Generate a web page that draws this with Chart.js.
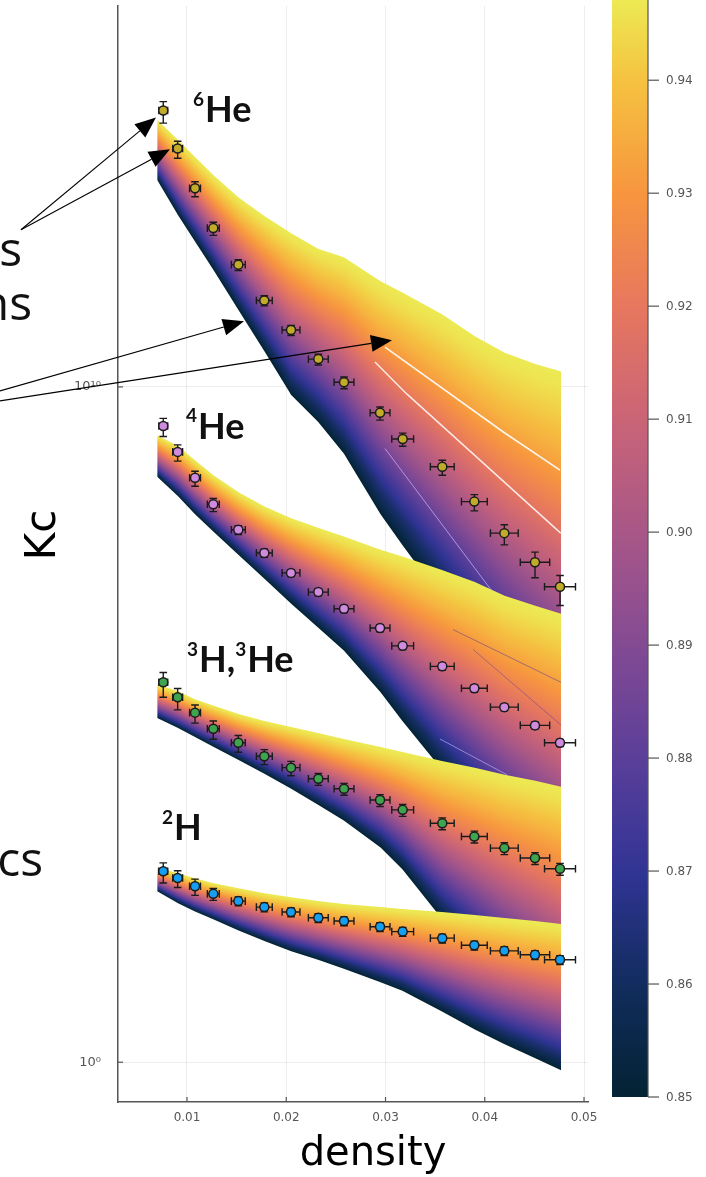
<!DOCTYPE html>
<html>
<head>
<meta charset="utf-8">
<script src="https://cdn.jsdelivr.net/npm/chart.js@4.4.1/dist/chart.umd.min.js"></script>
<style>
html,body{margin:0;padding:0;background:#fff;}
#wrap{position:relative;width:706px;height:1177px;}
</style>
</head>
<body>
<div id="wrap"><canvas id="c"></canvas></div>
<script>
// ---------------- data ----------------
const pointDensity = [0.00761, 0.00906, 0.01081, 0.01265, 0.01517, 0.01779, 0.02048, 0.02323, 0.02582, 0.02945, 0.03173, 0.03572, 0.03895, 0.04197, 0.04506, 0.04758];
const densityErr   = [0.00045, 0.0005, 0.00055, 0.0006, 0.0007, 0.0008, 0.0009, 0.001, 0.001, 0.001, 0.0011, 0.0012, 0.0013, 0.0014, 0.00148, 0.00156];

const he6LogKc  = [14.094, 13.530, 12.941, 12.352, 11.811, 11.281, 10.843, 10.412, 10.069, 9.617, 9.230, 8.817, 8.302, 7.835, 7.404, 7.040];
const he6RelErr = [0.35, 0.28, 0.25, 0.22, 0.18, 0.17, 0.17, 0.18, 0.20, 0.22, 0.22, 0.25, 0.27, 0.33, 0.41, 0.47];
const he4LogKc  = [9.421, 9.038, 8.655, 8.262, 7.884, 7.541, 7.246, 6.962, 6.716, 6.431, 6.166, 5.862, 5.538, 5.258, 4.988, 4.732];
const he4RelErr = [0.30, 0.27, 0.25, 0.22, 0.15, 0.14, 0.12, 0.12, 0.12, 0.12, 0.12, 0.12, 0.12, 0.12, 0.12, 0.12];
const h3LogKc   = [5.626, 5.405, 5.177, 4.938, 4.732, 4.532, 4.362, 4.197, 4.050, 3.884, 3.737, 3.539, 3.343, 3.171, 3.024, 2.865];
const h3RelErr  = [0.40, 0.35, 0.30, 0.30, 0.28, 0.25, 0.24, 0.20, 0.20, 0.20, 0.20, 0.20, 0.20, 0.20, 0.20, 0.20];
const h2LogKc   = [2.828, 2.729, 2.607, 2.493, 2.386, 2.297, 2.224, 2.140, 2.091, 2.007, 1.934, 1.837, 1.733, 1.649, 1.591, 1.517];
const h2RelErr  = [0.33, 0.28, 0.27, 0.20, 0.15, 0.15, 0.15, 0.15, 0.15, 0.15, 0.15, 0.15, 0.15, 0.15, 0.15, 0.15];

// model bands: log10(Kc) of the top (yellow) and bottom (dark) curve of each fan
const bandDensity   = [0.00700, 0.00910, 0.01081, 0.01270, 0.01520, 0.01780, 0.02050, 0.02320, 0.02580, 0.02950, 0.03170, 0.03569, 0.03900, 0.04200, 0.04509, 0.04769];
const he6BandTop    = [13.957, 13.658, 13.406, 13.132, 12.806, 12.533, 12.277, 12.047, 11.919, 11.566, 11.399, 11.075, 10.751, 10.508, 10.339, 10.228];
const he6BandBottom = [13.063, 12.541, 12.155, 11.723, 11.134, 10.530, 9.882, 9.484, 9.013, 8.115, 7.658, 6.863, 6.215, 5.626, 5.037, 4.521];
const he4BandTop    = [9.283, 9.124, 8.915, 8.689, 8.439, 8.228, 8.056, 7.916, 7.786, 7.588, 7.489, 7.290, 7.113, 6.907, 6.760, 6.642];
const he4BandBottom = [8.670, 8.380, 8.115, 7.850, 7.511, 7.158, 6.789, 6.436, 6.097, 5.479, 5.052, 4.330, 3.785, 3.299, 2.828, 2.415];
const h3BandTop     = [5.596, 5.493, 5.376, 5.280, 5.155, 5.052, 4.963, 4.875, 4.786, 4.668, 4.595, 4.462, 4.359, 4.256, 4.168, 4.080];
const h3BandBottom  = [5.096, 4.948, 4.816, 4.669, 4.477, 4.271, 4.050, 3.814, 3.579, 3.181, 2.857, 2.121, 1.649, 1.208, 0.766, 0.353];
const h2BandTop     = [2.887, 2.798, 2.725, 2.651, 2.577, 2.503, 2.444, 2.386, 2.342, 2.297, 2.268, 2.224, 2.180, 2.135, 2.091, 2.047];
const h2BandBottom  = [2.533, 2.356, 2.231, 2.113, 1.951, 1.797, 1.642, 1.517, 1.384, 1.186, 1.060, 0.751, 0.486, 0.265, 0.059, -0.118];
const bandParamTop = 0.9471, bandParamBottom = 0.85;
const bandColorExponent = 1.35;   // colour spacing across each fan (denser towards the dark edge)

// single highlighted curves inside the fans
const he6CurveA = {d: [0.02995, 0.04187, 0.04758], logKc: [10.589, 9.333, 8.767]};
const he6CurveB = {d: [0.02894, 0.03214, 0.04765], logKc: [10.368, 9.897, 7.835]};
const he6CurveC = {d: [0.02995, 0.04086], logKc: [9.087, 6.951]};
const he4CurveD = {d: [0.03680, 0.04768], logKc: [6.406, 5.626]};
const he4CurveE = {d: [0.03882, 0.04768], logKc: [6.112, 4.993]};
const he4CurveF = {d: [0.03549, 0.04224], logKc: [4.786, 4.256]};

// axes / colour bar
const xTicks = [0.01, 0.02, 0.03, 0.04, 0.05];
const yTicks = [1, 1e10];
const colorbarTicks = [0.85, 0.86, 0.87, 0.88, 0.89, 0.90, 0.91, 0.92, 0.93, 0.94];
const colorbarMin = 0.85, colorbarMax = 0.9471;
const cmapValues = [0.85, 0.86, 0.87, 0.88, 0.89, 0.90, 0.91, 0.92, 0.93, 0.94, 0.95];
const cmapColors = ['#042333', '#112d5e', '#313495', '#5b3f99', '#834a93', '#a85787', '#ca6477', '#e7775e', '#f7963f', '#f5c240', '#e8fa5b'];

// annotations (data coordinates: density, log10 Kc)
const nucleusLabels = [
  {d: 0.01060, logKc: 13.922, parts: [['6', true], ['He', false]]},
  {d: 0.00990, logKc: 9.234,  parts: [['4', true], ['He', false]]},
  {d: 0.01000, logKc: 5.773,  parts: [['3', true], ['H,', false], ['3', true], ['He', false]]},
  {d: 0.00748, logKc: 3.295,  parts: [['2', true], ['H', false]]}
];
const arrowList = [
  [-0.006726, 12.327, 0.006877, 13.991],
  [-0.006726, 12.327, 0.008287, 13.520],
  [-0.008841, 9.941, 0.015743, 10.972],
  [-0.008841, 9.794, 0.030655, 10.692]
];

// ---------------- helpers ----------------
function hexRgb(h) { return [parseInt(h.substr(1,2),16), parseInt(h.substr(3,2),16), parseInt(h.substr(5,2),16)]; }
const cmapRgb = cmapColors.map(hexRgb);
function cmap(v) {
  const n = cmapValues.length;
  if (v <= cmapValues[0]) return cmapRgb[0];
  if (v >= cmapValues[n-1]) return cmapRgb[n-1];
  let i = 0; while (v > cmapValues[i+1]) i++;
  const f = (v - cmapValues[i]) / (cmapValues[i+1] - cmapValues[i]);
  const a = cmapRgb[i], b = cmapRgb[i+1];
  return [0,1,2].map(k => Math.round(a[k] + (b[k]-a[k])*f));
}
function rgbStr(c) { return 'rgb(' + c[0] + ',' + c[1] + ',' + c[2] + ')'; }
function interp(xs, ys, x) {
  if (x <= xs[0]) return ys[0];
  for (let i = 0; i < xs.length-1; i++) {
    if (x <= xs[i+1]) { const f = (x - xs[i]) / (xs[i+1]-xs[i]); return ys[i] + (ys[i+1]-ys[i])*f; }
  }
  return ys[ys.length-1];
}
const pow10 = v => Math.pow(10, v);

const patternCache = {};
function bandFill(chart, key, top, bottom) {
  const area = chart.chartArea;
  if (!area || !chart.scales.x || !chart.scales.y) return 'rgba(0,0,0,0)';
  const ck = key + '|' + chart.width + 'x' + chart.height + '|' + area.left + ',' + area.top + ',' + area.right + ',' + area.bottom;
  if (patternCache[ck]) return patternCache[ck];
  const xs = chart.scales.x, ys = chart.scales.y;
  const off = document.createElement('canvas');
  off.width = chart.width; off.height = chart.height;
  const g = off.getContext('2d');
  const px = bandDensity.map(d => xs.getPixelForValue(d));
  const pt = top.map(v => ys.getPixelForValue(pow10(v)));
  const pb = bottom.map(v => ys.getPixelForValue(pow10(v)));
  const x0 = Math.floor(px[0]) - 1, x1 = Math.ceil(px[px.length-1]) + 1;
  const NS = 32;
  const stops = [];
  for (let i = 0; i <= NS; i++) {
    const f = i / NS;
    const gf = Math.pow(f, bandColorExponent);
    stops.push([f, rgbStr(cmap(bandParamTop + (bandParamBottom - bandParamTop) * gf))]);
  }
  for (let x = x0; x <= x1; x++) {
    const xc = Math.min(Math.max(x + 0.5, px[0]), px[px.length-1]);
    const yt = interp(px, pt, xc), yb = interp(px, pb, xc);
    const grad = g.createLinearGradient(0, yt, 0, yb);
    stops.forEach(s => grad.addColorStop(s[0], s[1]));
    g.fillStyle = grad;
    g.fillRect(x, yt - 3, 1, (yb - yt) + 6);
  }
  const pat = chart.ctx.createPattern(off, 'no-repeat');
  patternCache[ck] = pat;
  return pat;
}

// ---------------- datasets ----------------
const datasets = [];
function pointSet(logs, rel, color, order) {
  datasets.push({
    type: 'line', showLine: false, order: order,
    data: pointDensity.map((d, i) => ({x: d, y: pow10(logs[i])})),
    errors: {x: densityErr, rel: rel},
    pointRadius: 4.5, pointHoverRadius: 4.5, pointStyle: 'circle',
    pointBackgroundColor: color, pointBorderColor: '#1b1b1b', pointBorderWidth: 1.5,
    borderWidth: 0, fill: false
  });
}
pointSet(he6LogKc, he6RelErr, '#c0ac28', 0);
pointSet(he4LogKc, he4RelErr, '#d08ade', 1);
pointSet(h3LogKc, h3RelErr, '#3ea44e', 2);
pointSet(h2LogKc, h2RelErr, '#169ff0', 3);

const bands = [
  {key: 'he6', top: he6BandTop, bottom: he6BandBottom, order: 40},
  {key: 'he4', top: he4BandTop, bottom: he4BandBottom, order: 30},
  {key: 'h3',  top: h3BandTop,  bottom: h3BandBottom,  order: 20},
  {key: 'h2',  top: h2BandTop,  bottom: h2BandBottom,  order: 10}
];
bands.forEach(b => {
  datasets.push({
    type: 'line', order: b.order,
    data: bandDensity.map((d, i) => ({x: d, y: pow10(b.top[i])})),
    fill: '+1',
    backgroundColor: (ctx) => bandFill(ctx.chart, b.key, b.top, b.bottom),
    borderWidth: 0, borderColor: 'rgba(0,0,0,0)',
    pointRadius: 0, pointHoverRadius: 0,
    pointBackgroundColor: 'rgba(0,0,0,0)', pointBorderColor: 'rgba(0,0,0,0)', tension: 0
  });
  datasets.push({
    type: 'line', order: b.order + 1,
    data: bandDensity.map((d, i) => ({x: d, y: pow10(b.bottom[i])})),
    fill: false, borderWidth: 0, borderColor: 'rgba(0,0,0,0)',
    backgroundColor: 'rgba(0,0,0,0)',
    pointRadius: 0, pointHoverRadius: 0,
    pointBackgroundColor: 'rgba(0,0,0,0)', pointBorderColor: 'rgba(0,0,0,0)', tension: 0
  });
});
function curveSet(c, color, width, order) {
  datasets.push({
    type: 'line', order: order,
    data: c.d.map((d, i) => ({x: d, y: pow10(c.logKc[i])})),
    fill: false, borderColor: color, borderWidth: width,
    pointRadius: 0, pointHoverRadius: 0, tension: 0
  });
}
curveSet(he6CurveA, 'rgba(255,255,255,0.9)', 1.6, 35);
curveSet(he6CurveB, 'rgba(255,255,255,0.85)', 1.4, 35);
curveSet(he6CurveC, 'rgba(200,185,255,0.7)', 1.0, 35);
curveSet(he4CurveD, 'rgba(95,60,150,0.55)', 1.0, 25);
curveSet(he4CurveE, 'rgba(95,60,150,0.5)', 1.0, 25);
curveSet(he4CurveF, 'rgba(200,185,255,0.6)', 1.0, 25);

// ---------------- plugins ----------------
const errorBars = {
  id: 'errorBars',
  beforeDatasetDraw(chart, args) {
    const ds = chart.data.datasets[args.index];
    if (!ds.errors) return;
    const ctx = chart.ctx, xs = chart.scales.x, ys = chart.scales.y;
    const cap = 3.8;
    ctx.save();
    ctx.strokeStyle = '#1b1b1b';
    ctx.lineWidth = 1.4;
    ds.data.forEach((p, i) => {
      const x = xs.getPixelForValue(p.x), y = ys.getPixelForValue(p.y);
      const xl = xs.getPixelForValue(p.x - ds.errors.x[i]);
      const xr = xs.getPixelForValue(p.x + ds.errors.x[i]);
      const yt = ys.getPixelForValue(p.y * (1 + ds.errors.rel[i]));
      const yb = ys.getPixelForValue(p.y * (1 - ds.errors.rel[i]));
      ctx.beginPath();
      ctx.moveTo(xl, y); ctx.lineTo(xr, y);
      ctx.moveTo(xl, y - cap); ctx.lineTo(xl, y + cap);
      ctx.moveTo(xr, y - cap); ctx.lineTo(xr, y + cap);
      ctx.moveTo(x, yt); ctx.lineTo(x, yb);
      ctx.moveTo(x - cap, yt); ctx.lineTo(x + cap, yt);
      ctx.moveTo(x - cap, yb); ctx.lineTo(x + cap, yb);
      ctx.stroke();
    });
    ctx.restore();
  }
};

function drawSupText(ctx, parts, x, y, size, supSize) {
  let cx = x;
  parts.forEach(p => {
    if (p[1]) {
      ctx.font = 'bold ' + supSize + 'px Lato';
      ctx.fillText(p[0], cx, y - size * 0.45);
      cx += ctx.measureText(p[0]).width + 1;
    } else {
      ctx.font = 'bold ' + size + 'px Lato';
      ctx.fillText(p[0], cx, y);
      cx += ctx.measureText(p[0]).width;
    }
  });
}

function drawArrow(ctx, x0, y0, x1, y1) {
  const dx = x1 - x0, dy = y1 - y0, L = Math.hypot(dx, dy);
  const ux = dx / L, uy = dy / L;
  const hl = 21, hw = 8.5;
  const bx = x1 - ux * hl, by = y1 - uy * hl;
  ctx.beginPath(); ctx.moveTo(x0, y0); ctx.lineTo(bx, by); ctx.stroke();
  ctx.beginPath();
  ctx.moveTo(x1, y1);
  ctx.lineTo(bx - uy * hw, by + ux * hw);
  ctx.lineTo(bx + uy * hw, by - ux * hw);
  ctx.closePath(); ctx.fill();
}

const decor = {
  id: 'decor',
  afterDraw(chart) {
    const ctx = chart.ctx, xs = chart.scales.x, ys = chart.scales.y, a = chart.chartArea;
    ctx.save();
    // inner tick marks
    ctx.strokeStyle = '#555'; ctx.lineWidth = 1.2;
    xTicks.forEach(v => { const x = xs.getPixelForValue(v); ctx.beginPath(); ctx.moveTo(x, a.bottom); ctx.lineTo(x, a.bottom - 5); ctx.stroke(); });
    yTicks.forEach(v => { const y = ys.getPixelForValue(v); ctx.beginPath(); ctx.moveTo(a.left, y); ctx.lineTo(a.left + 5, y); ctx.stroke(); });

    // colour bar
    const cbL = 612, cbR = 648, cbT = 0, cbB = 1097;
    const grad = ctx.createLinearGradient(0, cbB, 0, cbT);
    for (let i = 0; i <= 40; i++) {
      const f = i / 40;
      grad.addColorStop(f, rgbStr(cmap(colorbarMin + (colorbarMax - colorbarMin) * f)));
    }
    ctx.fillStyle = grad;
    ctx.fillRect(cbL, cbT, cbR - cbL, cbB - cbT);
    ctx.strokeStyle = '#555'; ctx.lineWidth = 1.2;
    ctx.beginPath(); ctx.moveTo(cbR, cbT); ctx.lineTo(cbR, cbB); ctx.stroke();
    ctx.fillStyle = '#555';
    ctx.font = '12px "DejaVu Sans"';
    ctx.textAlign = 'left'; ctx.textBaseline = 'middle';
    colorbarTicks.forEach(v => {
      const y = cbB - (v - colorbarMin) / (colorbarMax - colorbarMin) * (cbB - cbT);
      ctx.beginPath(); ctx.moveTo(cbR, y); ctx.lineTo(cbR + 11, y); ctx.stroke();
      ctx.fillText(v.toFixed(2), cbR + 18, y + 1);
    });

    // nucleus labels
    ctx.fillStyle = '#111';
    ctx.textAlign = 'left'; ctx.textBaseline = 'alphabetic';
    nucleusLabels.forEach(l => {
      drawSupText(ctx, l.parts, xs.getPixelForValue(l.d), ys.getPixelForValue(pow10(l.logKc)), 36, 19);
    });

    // arrows
    ctx.strokeStyle = '#000'; ctx.fillStyle = '#000'; ctx.lineWidth = 1.1;
    arrowList.forEach(r => {
      drawArrow(ctx, xs.getPixelForValue(r[0]), ys.getPixelForValue(pow10(r[1])),
                     xs.getPixelForValue(r[2]), ys.getPixelForValue(pow10(r[3])));
    });

    // cut-off side text
    ctx.fillStyle = '#111';
    ctx.font = '48px "Open Sans"';
    ctx.textAlign = 'right'; ctx.textBaseline = 'alphabetic';
    ctx.fillText('s', 22, 266);
    ctx.fillText('ns', 32, 320);
    ctx.fillText('cs', 43, 876);

    // axis titles
    ctx.fillStyle = '#000';
    ctx.font = '40px "DejaVu Sans"';
    ctx.textAlign = 'center';
    ctx.fillText('density', 373, 1165);
    ctx.save();
    ctx.translate(55, 535);
    ctx.rotate(-Math.PI / 2);
    ctx.font = '42px "DejaVu Sans"';
    ctx.fillText('Kc', 0, 0);
    ctx.restore();
    ctx.restore();
  }
};

Chart.defaults.font.family = '"DejaVu Sans"';
new Chart(document.getElementById('c'), {
  type: 'line',
  data: {datasets: datasets},
  options: {
    responsive: true, maintainAspectRatio: false, animation: false,
    events: [],
    layout: {padding: {left: 0, top: 0, right: 118, bottom: 0}},
    plugins: {legend: {display: false}, tooltip: {enabled: false}, filler: {propagate: false}},
    scales: {
      x: {
        type: 'linear', position: 'bottom', min: 0.00305, max: 0.0504,
        afterBuildTicks: s => { s.ticks = xTicks.map(v => ({value: v})); },
        afterFit: s => { s.height = 75; s.paddingLeft = 0; s.paddingRight = 0; s.paddingTop = 0; s.paddingBottom = 0; },
        ticks: {callback: v => v.toFixed(2), color: '#555', font: {size: 12}, padding: 9, maxRotation: 0, autoSkip: false},
        grid: {color: 'rgba(0,0,0,0.07)', lineWidth: 1, drawTicks: false},
        border: {display: true, color: '#555', width: 1.5}
      },
      y: {
        type: 'logarithmic', position: 'left', min: pow10(-0.589), max: pow10(15.641),
        afterBuildTicks: s => { s.ticks = yTicks.map(v => ({value: v})); },
        afterFit: s => { s.width = 118; s.paddingLeft = 0; s.paddingRight = 0; s.paddingTop = 0; s.paddingBottom = 0; },
        ticks: {callback: v => (v === 1 ? '10\u2070' : (v === 1e10 ? '10\u00b9\u2070' : '')), color: '#555', font: {size: 13}, padding: 17, autoSkip: false},
        grid: {color: 'rgba(0,0,0,0.07)', lineWidth: 1, drawTicks: false},
        border: {display: true, color: '#555', width: 1.5}
      }
    }
  },
  plugins: [errorBars, decor]
});
</script>
</body>
</html>
